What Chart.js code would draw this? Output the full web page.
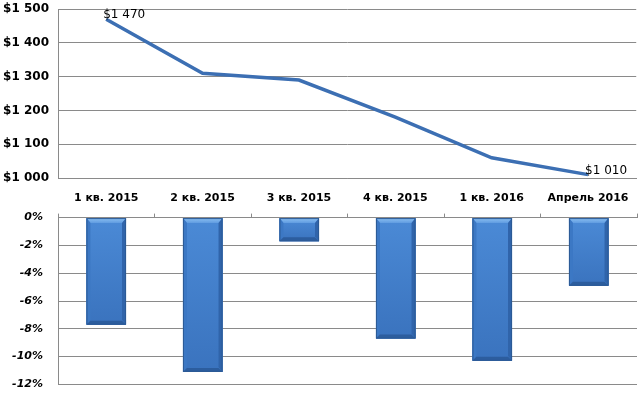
<!DOCTYPE html>
<html>
<head>
<meta charset="utf-8">
<script src="https://cdn.jsdelivr.net/npm/chart.js@4/dist/chart.umd.min.js"></script>
<style>
  body { margin: 0; background: #fff; }
  .wrap { position: relative; width: 643px; height: 395px; overflow: hidden; }
  canvas { display: block; position: absolute; left: 0; }
  #priceCanvas { top: -7px; }
  #changeCanvas { top: 196px; }
</style>
</head>
<body>
<div class="wrap">
<canvas id="priceCanvas" width="643" height="214"></canvas>
<canvas id="changeCanvas" width="643" height="210"></canvas>
</div>
<script>
// categories
var periods = ['1 кв. 2015', '2 кв. 2015', '3 кв. 2015', '4 кв. 2015', '1 кв. 2016', 'Апрель 2016'];
// price per square metre, $
var prices = [1470, 1310, 1290, 1180, 1060, 1010];
// change in percent
var changes = [-7.7, -11.1, -1.7, -8.7, -10.3, -4.9];
// which points get a value label
var labeledPoints = [0, 5];

var gridColor = '#8a8a8a';
Chart.defaults.animation = false;

function money(v) {
  return '$' + Math.floor(v / 1000) + ' ' + String(v % 1000).padStart(3, '0');
}

// value labels on the line
var pointLabels = {
  id: 'pointLabels',
  afterDatasetsDraw: function(chart) {
    var ctx = chart.ctx;
    var meta = chart.getDatasetMeta(0);
    ctx.save();
    ctx.font = '12px "DejaVu Sans"';
    ctx.fillStyle = '#000';
    ctx.textAlign = 'left';
    ctx.textBaseline = 'middle';
    labeledPoints.forEach(function(i) {
      var pt = meta.data[i];
      ctx.fillText(money(prices[i]), pt.x - 3, pt.y - 4);
    });
    ctx.restore();
  }
};

// bevel look on the bars
function trap(ctx, pts, color) {
  ctx.fillStyle = color;
  ctx.beginPath();
  ctx.moveTo(pts[0], pts[1]);
  for (var i = 2; i < pts.length; i += 2) ctx.lineTo(pts[i], pts[i + 1]);
  ctx.closePath();
  ctx.fill();
}
var barBevel = {
  id: 'barBevel',
  afterDatasetsDraw: function(chart) {
    var ctx = chart.ctx;
    var meta = chart.getDatasetMeta(0);
    ctx.save();
    meta.data.forEach(function(bar) {
      var p = bar.getProps(['x', 'y', 'base', 'width'], true);
      var x0 = p.x - p.width / 2, x1 = p.x + p.width / 2;
      var top = Math.min(p.y, p.base), bot = Math.max(p.y, p.base);
      var g = ctx.createLinearGradient(0, top, 0, bot);
      g.addColorStop(0, '#4b8ad6');
      g.addColorStop(1, '#3a73be');
      ctx.fillStyle = g;
      ctx.fillRect(x0, top, p.width, bot - top);
      var b = Math.min(5, (bot - top) / 2);
      var s = 4;
      // top
      var gt = ctx.createLinearGradient(0, top, 0, top + b);
      gt.addColorStop(0, '#8cc0f2');
      gt.addColorStop(1, '#5f9be0');
      trap(ctx, [x0, top, x1, top, x1 - s, top + b, x0 + s, top + b], gt);
      // sides
      trap(ctx, [x1, top, x1, bot, x1 - s, bot - b, x1 - s, top + b], '#3064aa');
      trap(ctx, [x0, top, x0, bot, x0 + s, bot - b, x0 + s, top + b], '#3c78c4');
      // bottom
      trap(ctx, [x0, bot, x1, bot, x1 - s, bot - b + 1, x0 + s, bot - b + 1], '#2c5d9e');
      ctx.strokeStyle = '#2c5a96';
      ctx.lineWidth = 1;
      ctx.strokeRect(x0 + 0.5, top + 0.5, p.width - 1, bot - top - 1);
    });
    ctx.restore();
  }
};

new Chart(document.getElementById('priceCanvas'), {
  type: 'line',
  data: {
    labels: periods,
    datasets: [{
      data: prices,
      borderColor: '#3c6fb3',
      borderWidth: 3.5,
      pointRadius: 0,
      tension: 0,
      fill: false
    }]
  },
  options: {
    responsive: false,
    layout: { padding: { top: 2, right: 6, left: 0, bottom: 0 } },
    plugins: { legend: { display: false }, tooltip: { enabled: false } },
    scales: {
      x: {
        offset: true,
        grid: { display: false, drawTicks: false },
        border: { display: true, color: gridColor },
        ticks: { color: '#000', font: { family: 'DejaVu Sans', size: 11, weight: 'bold' }, padding: 14, maxRotation: 0 },
        afterFit: function(s) { s.height = 29; }
      },
      y: {
        min: 1000,
        max: 1500,
        grid: { color: gridColor, drawTicks: false },
        border: { color: gridColor },
        ticks: {
          stepSize: 100,
          color: '#000',
          padding: 9,
          font: { family: 'DejaVu Sans', size: 12, weight: 'bold' },
          callback: function(v) { return money(v); }
        },
        afterFit: function(s) { s.width = 58; }
      }
    }
  },
  plugins: [pointLabels]
});

new Chart(document.getElementById('changeCanvas'), {
  type: 'bar',
  data: {
    labels: periods,
    datasets: [{
      data: changes,
      backgroundColor: '#3f7cc8',
      categoryPercentage: 1,
      barPercentage: 0.41
    }]
  },
  options: {
    responsive: false,
    layout: { padding: { top: 4, right: 6, left: 0, bottom: 1 } },
    plugins: { legend: { display: false }, tooltip: { enabled: false } },
    scales: {
      x: {
        position: 'top',
        grid: { drawOnChartArea: false, color: gridColor, tickLength: 4 },
        border: { color: gridColor },
        ticks: { display: false },
        afterFit: function(s) { s.height = 4; }
      },
      y: {
        min: -12,
        max: 0,
        grid: { color: gridColor, drawTicks: false },
        border: { color: gridColor },
        ticks: {
          stepSize: 2,
          color: '#000',
          padding: 15,
          font: { family: 'DejaVu Sans', size: 11, weight: 'bold', style: 'italic' },
          callback: function(v) { return v + '%'; }
        },
        afterFit: function(s) { s.width = 58; }
      }
    }
  },
  plugins: [barBevel]
});
</script>
</body>
</html>
